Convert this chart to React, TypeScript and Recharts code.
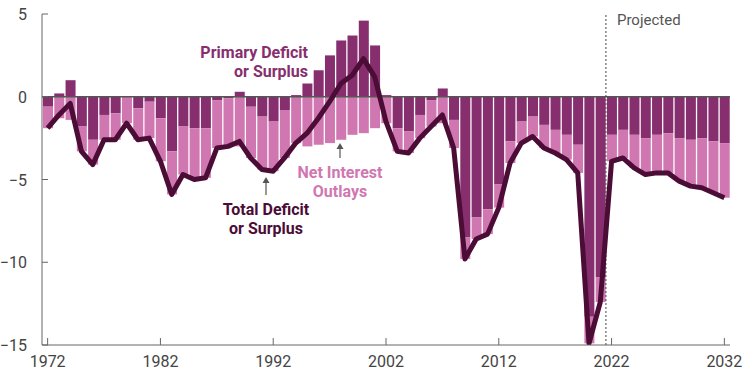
import { ComposedChart, Bar, Line, XAxis, YAxis, ReferenceLine } from "recharts";

const years = [
  1972, 1973, 1974, 1975, 1976, 1977, 1978, 1979, 1980, 1981,
  1982, 1983, 1984, 1985, 1986, 1987, 1988, 1989, 1990, 1991,
  1992, 1993, 1994, 1995, 1996, 1997, 1998, 1999, 2000, 2001,
  2002, 2003, 2004, 2005, 2006, 2007, 2008, 2009, 2010, 2011,
  2012, 2013, 2014, 2015, 2016, 2017, 2018, 2019, 2020, 2021,
  2022, 2023, 2024, 2025, 2026, 2027, 2028, 2029, 2030, 2031, 2032,
];

// primary deficit (-) or surplus (+), % of GDP
const primary = [
  -0.6, 0.2, 1.0, -1.8, -2.6, -1.1, -1.0, 0.0, -0.7, -0.3,
  -1.3, -3.3, -1.8, -1.9, -1.9, -0.2, -0.1, 0.3, -0.6, -1.2,
  -1.5, -0.8, 0.1, 0.8, 1.6, 2.5, 3.4, 3.7, 4.6, 3.1,
  0.1, -1.9, -2.1, -1.1, -0.2, 0.5, -1.4, -8.5, -7.3, -6.8,
  -5.3, -2.7, -1.5, -1.2, -1.7, -2.0, -2.3, -2.9, -13.3, -10.9,
  -2.3, -2.0, -2.3, -2.5, -2.3, -2.2, -2.5, -2.6, -2.5, -2.7, -2.8,
];

// net interest outlays, % of GDP
const netInterest = [
  1.3, 1.3, 1.4, 1.5, 1.5, 1.5, 1.6, 1.6, 1.9, 2.2,
  2.6, 2.6, 2.9, 3.1, 3.0, 2.9, 2.9, 3.0, 3.1, 3.2,
  3.0, 2.9, 2.8, 3.0, 2.9, 2.8, 2.6, 2.3, 2.2, 1.9,
  1.6, 1.4, 1.3, 1.4, 1.6, 1.6, 1.7, 1.3, 1.3, 1.5,
  1.4, 1.3, 1.3, 1.2, 1.4, 1.4, 1.5, 1.7, 1.6, 1.5,
  1.6, 1.7, 2.0, 2.2, 2.3, 2.4, 2.6, 2.8, 3.0, 3.1, 3.3,
];

// total deficit (-) or surplus (+), % of GDP
const total = [
  -1.9, -1.1, -0.4, -3.3, -4.1, -2.6, -2.6, -1.6, -2.6, -2.5,
  -3.9, -5.9, -4.7, -5.0, -4.9, -3.1, -3.0, -2.7, -3.7, -4.4,
  -4.5, -3.7, -2.8, -2.2, -1.3, -0.3, 0.8, 1.3, 2.3, 1.2,
  -1.5, -3.3, -3.4, -2.5, -1.8, -1.1, -3.1, -9.8, -8.6, -8.3,
  -6.7, -4.0, -2.8, -2.4, -3.1, -3.4, -3.8, -4.6, -14.9, -12.4,
  -3.9, -3.7, -4.3, -4.7, -4.6, -4.6, -5.1, -5.4, -5.5, -5.8, -6.1,
];

const yTicks = [-15, -10, -5, 0, 5];

const data = years.map((y, i) => ({
  year: String(y),
  primary: primary[i],
  interest: -netInterest[i],
  total: total[i],
}));

const DARK = "#862e6e";
const PINK = "#d077b1";
const LINE = "#4b0c36";
const AXIS = "#666";
const FONT = "Roboto, sans-serif";

const XTick = (props: any) => {
  const { x, y, payload } = props;
  return (
    <g>
      <line x1={x} x2={x} y1={y} y2={y - 7} stroke={AXIS} strokeWidth={1} />
      <text x={x} y={y + 22} textAnchor="middle" fill="#444" fontSize={16} fontFamily={FONT}>
        {payload.value}
      </text>
    </g>
  );
};

const YTick = (props: any) => {
  const { x, y, payload } = props;
  const v = Number(payload.value);
  const label = v < 0 ? `\u2212${Math.abs(v)}` : String(v);
  return (
    <g>
      <line x1={x} x2={x + 6} y1={y} y2={y} stroke={AXIS} strokeWidth={1} />
      <text x={x - 15} y={y + 6} textAnchor="end" fill="#444" fontSize={16} fontFamily={FONT}>
        {label}
      </text>
    </g>
  );
};

export default function App() {
  return (
    <div style={{ position: "absolute", left: 0, top: 0, width: 750, height: 375 }}>
      <ComposedChart
        width={750}
        height={375}
        data={data}
        stackOffset="sign"
        margin={{ top: 14, right: 20, bottom: 0, left: 0 }}
      >
        <XAxis
          dataKey="year"
          interval={9}
          tickSize={0}
          tickMargin={0}
          tick={<XTick />}
          height={30}
          stroke={AXIS}
        />
        <YAxis
          domain={[-15, 5]}
          ticks={yTicks}
          allowDataOverflow
          tickSize={0}
          tickMargin={0}
          tick={<YTick />}
          width={42}
          stroke={AXIS}
        />
        <Bar dataKey="primary" stackId="a" fill={DARK} barSize={10} isAnimationActive={false} />
        <Bar dataKey="interest" stackId="a" fill={PINK} barSize={10} isAnimationActive={false} />
        <ReferenceLine y={0} stroke="#555" strokeWidth={1.5} />
        <ReferenceLine
          x="2022"
          position="start"
          stroke="#444"
          strokeDasharray="2 2"
          label={(p: any) => (
            <text
              x={p.viewBox.x + 11}
              y={p.viewBox.y + 11}
              fill="#555"
              fontSize={15}
              fontFamily={FONT}
            >
              Projected
            </text>
          )}
        />
        <Line
          dataKey="total"
          stroke={LINE}
          strokeWidth={5}
          dot={false}
          activeDot={false}
          type="linear"
          strokeLinejoin="round"
          isAnimationActive={false}
        />
      </ComposedChart>
      <svg
        width={750}
        height={375}
        style={{ position: "absolute", left: 0, top: 0, pointerEvents: "none" }}
        fontFamily={FONT}
        fontWeight="bold"
        fontSize={16}
      >
        <text textAnchor="end" fill={DARK}>
          <tspan x={308} y={58}>Primary Deficit</tspan>
          <tspan x={308} y={77}>or Surplus</tspan>
        </text>
        <text textAnchor="middle" fill={PINK}>
          <tspan x={340} y={178}>Net Interest</tspan>
          <tspan x={340} y={197}>Outlays</tspan>
        </text>
        <text textAnchor="middle" fill={LINE}>
          <tspan x={266} y={215}>Total Deficit</tspan>
          <tspan x={266} y={234}>or Surplus</tspan>
        </text>
        <line x1={340} x2={340} y1={158} y2={145} stroke="#555" strokeWidth={1.2} />
        <path d="M336.5,149 L340,143 L343.5,149 Z" fill="#555" />
        <line x1={266} x2={266} y1={195} y2={179} stroke="#555" strokeWidth={1.2} />
        <path d="M262.5,183 L266,177 L269.5,183 Z" fill="#555" />
      </svg>
    </div>
  );
}
